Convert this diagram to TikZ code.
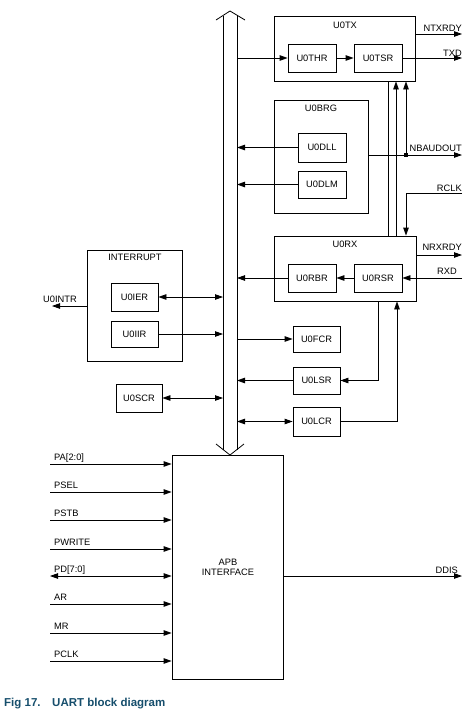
\documentclass[tikz,border=0pt]{standalone}
\usepackage{fontspec}
\setmainfont{Liberation Sans}
\usetikzlibrary{arrows.meta}
\definecolor{capcol}{RGB}{22,78,108}
\begin{document}
\begin{tikzpicture}[x=1pt,y=-1pt,font=\fontsize{9.3}{11}\selectfont]
\tikzset{
  blk/.style={draw, line width=0.8pt, inner sep=0pt, align=center},
  wire/.style={line width=0.8pt},
  arr/.style={wire, -{Triangle[length=8pt,width=5.5pt]}},
  darr/.style={wire, {Triangle[length=8pt,width=5.5pt]}-{Triangle[length=8pt,width=5.5pt]}},
  lbl/.style={inner sep=0pt},
  jdot/.style={fill, minimum size=4pt, inner sep=0pt},
}
\useasboundingbox (0,0) rectangle (476,710);

% ---------------- bus ----------------
\coordinate (busL) at (223,0);
\coordinate (busR) at (237,0);
\draw[wire] (223,16) -- (223,449.5);
\draw[wire] (237,15.2) -- (237,449.5);
\draw[wire] (216,20) -- (230,11) -- (245,20);
\draw[wire] (216,444) -- (230,455) -- (244,444);

% ---------------- U0TX ----------------
\node[blk, minimum width=141pt, minimum height=65pt] (tx) at (344.5,48.5) {};
\node[lbl] (txt) at (345,25) {U0TX};
\node[blk, minimum width=48pt, minimum height=28pt] (thr) at (312,58) {U0THR};
\node[blk, minimum width=48pt, minimum height=28pt] (tsr) at (378,58) {U0TSR};
\coordinate (ntxE) at (462,34);
\coordinate (txdE) at (462,58);
\draw[arr] (thr.west -| busR) -- (thr.west);
\draw[arr] (thr) -- (tsr);
\draw[arr] (tsr.east) -- (txdE);
\draw[arr] (ntxE -| tx.east) -- (ntxE);
\node[lbl, anchor=base east] (lntx) at (462,31) {NTXRDY};
\node[lbl, anchor=base east] (ltxd) at (462,56) {TXD};

% ---------------- U0BRG ----------------
\node[blk, minimum width=94pt, minimum height=113pt] (brg) at (321,156.5) {};
\node[lbl] (brgt) at (321,108) {U0BRG};
\node[blk, minimum width=48pt, minimum height=29pt] (dll) at (322,147.5) {U0DLL};
\node[blk, minimum width=48pt, minimum height=27pt] (dlm) at (322,184.5) {U0DLM};
\draw[arr] (dll.west) -- (dll.west -| busR);
\draw[arr] (dlm.west) -- (dlm.west -| busR);
\node[jdot] (jn) at (406,155) {};
\coordinate (nbE) at (462,155);
\draw[arr] (nbE -| brg.east) -- (nbE);
\node[lbl, anchor=base east] (lnb) at (462,151) {NBAUDOUT};
\draw[arr] (jn.center) -- (jn.center |- tx.south);

% ---------------- U0RX ----------------
\node[blk, minimum width=142pt, minimum height=65pt] (rx) at (345,268.5) {};
\node[lbl] (rxt) at (345,244) {U0RX};
\node[blk, minimum width=48pt, minimum height=28pt] (rbr) at (312,278) {U0RBR};
\node[blk, minimum width=48pt, minimum height=28pt] (rsr) at (378,278) {U0RSR};
\coordinate (nrxE) at (462,255);
\coordinate (rxdE) at (462,278);
\draw[arr] (nrxE -| rx.east) -- (nrxE);
\draw[arr] (rxdE) -- (rsr.east);
\draw[arr] (rsr) -- (rbr);
\draw[arr] (rbr.west) -- (rbr.west -| busR);
\node[lbl, anchor=base east] (lnrx) at (462,250) {NRXRDY};
\node[lbl, anchor=base east] (lrxd) at (457,274) {RXD};

% vertical links TX <-> RX
\coordinate (v1) at (388,0);
\coordinate (v2) at (396,0);
\coordinate (v3) at (406,0);
\draw[wire] (tx.south -| v1) -- (rx.north -| v1);
\draw[arr] (rx.north -| v2) -- (tx.south -| v2);
\coordinate (rclkE) at (462,193);
\draw[arr] (rclkE) -- (rclkE -| v3) -- (rx.north -| v3);
\node[lbl, anchor=base east] (lrclk) at (462,191) {RCLK};

% ---------------- FCR / LSR / LCR ----------------
\node[blk, minimum width=47pt, minimum height=26pt] (fcr) at (316.5,339) {U0FCR};
\node[blk, minimum width=47pt, minimum height=27pt] (lsr) at (316.5,380.5) {U0LSR};
\node[blk, minimum width=47pt, minimum height=29pt] (lcr) at (316.5,421.5) {U0LCR};
\draw[arr] (fcr.west -| busR) -- (fcr.west);
\draw[arr] (lsr.west) -- (lsr.west -| busR);
\draw[darr] (lcr.west -| busR) -- (lcr.west);
\coordinate (v4) at (378,0);
\coordinate (v5) at (397,0);
\draw[arr] (rx.south -| v4) |- (lsr.east);
\draw[arr] (lcr.east) -| (rx.south -| v5);

% ---------------- INTERRUPT ----------------
\node[blk, minimum width=95pt, minimum height=111pt] (intr) at (134.5,305.5) {};
\node[lbl] (intt) at (135,257) {INTERRUPT};
\node[blk, minimum width=47pt, minimum height=28pt] (ier) at (134.5,297) {U0IER};
\node[blk, minimum width=47pt, minimum height=26pt] (iir) at (134.5,334) {U0IIR};
\draw[darr] (ier.east) -- (ier.east -| busL);
\draw[arr] (iir.east) -- (iir.east -| busL);
\coordinate (intE) at (52,306);
\draw[arr] (intE -| intr.west) -- (intE);
\node[lbl, anchor=base west] (lint) at (43,302) {U0INTR};
\node[blk, minimum width=46pt, minimum height=28pt] (scr) at (139,398) {U0SCR};
\draw[darr] (scr.east) -- (scr.east -| busL);

% ---------------- APB ----------------
\node[blk, minimum width=111pt, minimum height=224pt] (apb) at (227.5,567) {};
\node[lbl, align=center] (apbt) at (228,567) {APB\\[-1pt]INTERFACE};
\foreach \y/\t/\n in {464/PA[2:0]/pa, 492/PSEL/psel, 520/PSTB/pstb, 549/PWRITE/pwr, 604/AR/ar, 633/MR/mr, 661/PCLK/pclk}{
  \coordinate (in\n) at (50,\y);
  \draw[arr] (in\n) -- (in\n -| apb.west);
  \node[lbl, anchor=base west] (l\n) at (54,\y-3.5) {\t};
}
\coordinate (inpd) at (50,576);
\draw[darr] (inpd) -- (inpd -| apb.west);
\node[lbl, anchor=base west] (lpd) at (54,572.5) {PD[7:0]};
\coordinate (ddE) at (462,576);
\draw[arr] (ddE -| apb.east) -- (ddE);
\node[lbl, anchor=base east] (ldd) at (458,573) {DDIS};

% ---------------- caption ----------------
\node[lbl, anchor=base west, text=capcol, font=\fontsize{11.5}{13}\selectfont\bfseries] (cap) at (4,706)
  {\makebox[48pt][l]{Fig 17.}UART block diagram};
\end{tikzpicture}
\end{document}
